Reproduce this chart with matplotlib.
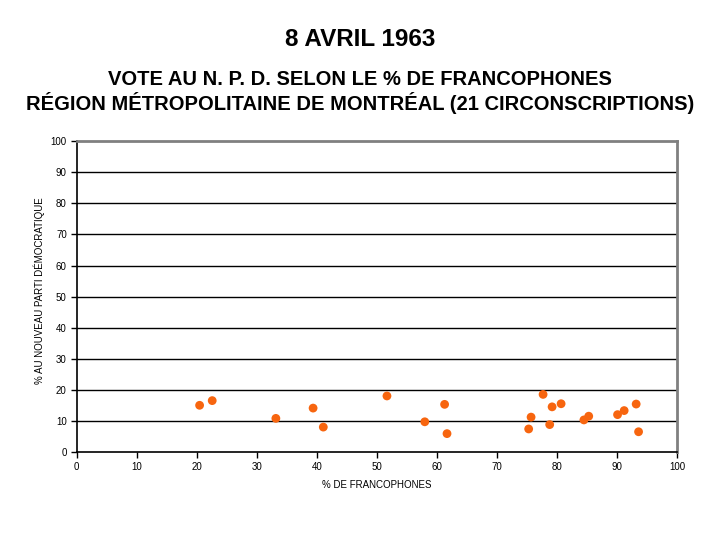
import numpy as np
import matplotlib
matplotlib.use("Agg")
import matplotlib.pyplot as plt

plt.rcParams['font.family'] = ['Liberation Sans', 'DejaVu Sans']

# % francophones vs % NPD vote, 21 ridings
pct_franco = [20.5, 22.6, 33.2, 39.4, 41.1, 51.7, 58.0, 61.3, 61.7, 75.3, 75.7,
              77.7, 79.2, 78.8, 80.7, 84.5, 85.3, 90.1, 91.2, 93.2, 93.6]
pct_npd = [15.1, 16.6, 10.9, 14.2, 8.1, 18.1, 9.8, 15.4, 6.0, 7.5, 11.3,
           18.6, 14.6, 8.9, 15.6, 10.4, 11.6, 12.1, 13.4, 15.5, 6.6]

x_ticks = list(range(0, 101, 10))
y_ticks = list(range(0, 101, 10))

fig = plt.figure(figsize=(7.2, 5.4), dpi=100)
ax = fig.add_axes([76.5 / 720, 1 - 452.3 / 540, 600.5 / 720, 311.3 / 540])

for y in y_ticks[1:-1]:
    ax.axhline(y, color='black', lw=1, zorder=1)

ax.scatter(pct_franco, pct_npd, s=40, color='#f7650f', edgecolors='none', zorder=3)

ax.set_xlim(0, 100)
ax.set_ylim(0, 100)
ax.set_xticks(x_ticks)
ax.set_yticks(y_ticks)
ax.tick_params(labelsize=7, length=4, width=1, color='black', pad=3)

for side in ['left', 'bottom']:
    ax.spines[side].set_color('black')
    ax.spines[side].set_linewidth(1.2)
for side in ['top', 'right']:
    ax.spines[side].set_color('#808080')
    ax.spines[side].set_linewidth(2)

ax.set_xlabel('% DE FRANCOPHONES', fontsize=7, labelpad=6)
ax.set_ylabel('% AU NOUVEAU PARTI DÉMOCRATIQUE', fontsize=7)
ax.yaxis.set_label_coords(-0.052, 0.52)

fig.text(0.5, 1 - 40 / 540, '8 AVRIL 1963', ha='center', va='center',
         fontsize=17.5, fontweight='bold')
fig.text(0.5, 1 - 92 / 540,
         'VOTE AU N. P. D. SELON LE % DE FRANCOPHONES\n'
         'RÉGION MÉTROPOLITAINE DE MONTRÉAL (21 CIRCONSCRIPTIONS)',
         ha='center', va='center', fontsize=14.5, fontweight='bold', linespacing=1.18)

fig.savefig('out.png', dpi=100)
